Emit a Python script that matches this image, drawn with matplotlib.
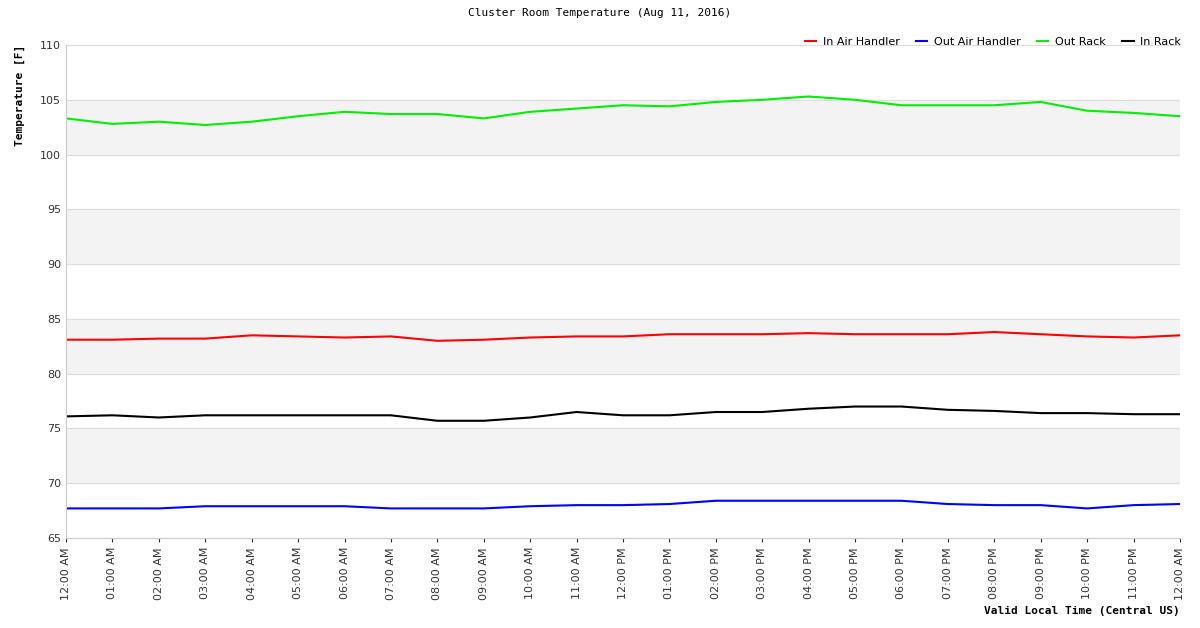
import matplotlib
matplotlib.use("Agg")
import matplotlib.pyplot as plt

hours = list(range(25))
tick_labels = ["12:00 AM","01:00 AM","02:00 AM","03:00 AM","04:00 AM","05:00 AM","06:00 AM","07:00 AM",
               "08:00 AM","09:00 AM","10:00 AM","11:00 AM","12:00 PM","01:00 PM","02:00 PM","03:00 PM",
               "04:00 PM","05:00 PM","06:00 PM","07:00 PM","08:00 PM","09:00 PM","10:00 PM","11:00 PM","12:00 AM"]
in_air = [83.1,83.1,83.2,83.2,83.5,83.4,83.3,83.4,83.0,83.1,83.3,83.4,83.4,83.6,83.6,83.6,83.7,83.6,83.6,83.6,83.8,83.6,83.4,83.3,83.5]
out_air = [67.7,67.7,67.7,67.9,67.9,67.9,67.9,67.7,67.7,67.7,67.9,68.0,68.0,68.1,68.4,68.4,68.4,68.4,68.4,68.1,68.0,68.0,67.7,68.0,68.1]
out_rack = [103.3,102.8,103.0,102.7,103.0,103.5,103.9,103.7,103.7,103.3,103.9,104.2,104.5,104.4,104.8,105.0,105.3,105.0,104.5,104.5,104.5,104.8,104.0,103.8,103.5]
in_rack = [76.1,76.2,76.0,76.2,76.2,76.2,76.2,76.2,75.7,75.7,76.0,76.5,76.2,76.2,76.5,76.5,76.8,77.0,77.0,76.7,76.6,76.4,76.4,76.3,76.3]

fig = plt.figure(figsize=(12, 6.28), dpi=100)
ax = fig.add_axes([66/1200, 1-538/628, 1114/1200, 493/628])
for lo in (70, 80, 90, 100):
    ax.axhspan(lo, lo+5, color="#f3f3f3", zorder=0)
for y in range(65, 111, 5):
    ax.axhline(y, color="#dddddd", lw=0.8, zorder=1)
ax.plot(hours, in_air, color="red", lw=1.5, label="In Air Handler")
ax.plot(hours, out_air, color="blue", lw=1.5, label="Out Air Handler")
ax.plot(hours, out_rack, color="#00ee00", lw=1.5, label="Out Rack")
ax.plot(hours, in_rack, color="black", lw=1.5, label="In Rack")
ax.set_xlim(0, 24)
ax.set_ylim(65, 110)
ax.set_xticks(hours)
ax.set_xticklabels(tick_labels, rotation=90, fontsize=8, color="#333333")
ax.set_yticks(range(65, 111, 5))
ax.tick_params(axis="y", labelsize=8, colors="#333333", length=0)
ax.tick_params(axis="x", length=3, colors="#333333")
for s in ("top", "right"):
    ax.spines[s].set_visible(False)
for s in ("left", "bottom"):
    ax.spines[s].set_color("#cccccc")
fig.text(20/1200, 1-45/628, "Temperature [F]", rotation=90, ha="center", va="top",
         fontsize=8, fontweight="bold", family="DejaVu Sans Mono")
fig.text(1180/1200, 1-611/628, "Valid Local Time (Central US)", ha="right", va="center",
         fontsize=8, fontweight="bold", family="DejaVu Sans Mono")
fig.text(0.5, 1-13/628, "Cluster Room Temperature (Aug 11, 2016)", ha="center", va="center",
         fontsize=8, family="DejaVu Sans Mono")
ax.legend(loc="center right", bbox_to_anchor=(1.005, 1.006), ncol=4, frameon=False, fontsize=8,
          handlelength=1.0, columnspacing=1.5, handletextpad=0.6, borderaxespad=0,
          facecolor="white")
fig.savefig("out.png", dpi=100)
